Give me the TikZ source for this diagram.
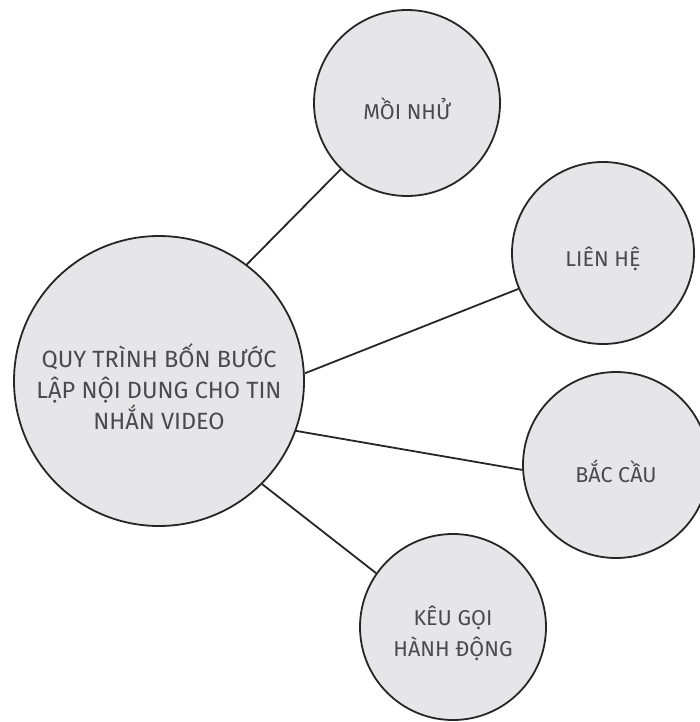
\documentclass[tikz,border=0pt]{standalone}
\usepackage{fontspec}
\setmainfont{Fira Sans}
\definecolor{fillgrey}{HTML}{E6E6E8}
\definecolor{txtgrey}{HTML}{4A4A4A}
\definecolor{edgegrey}{HTML}{262626}
\begin{document}
\begin{tikzpicture}[x=1pt,y=-1pt,
  bubble/.style={circle, draw=edgegrey, line width=1.8pt, fill=fillgrey,
    inner sep=0pt},
  lbl/.style={inner sep=0pt, align=center, text=txtgrey,
    font=\fontsize{21.5}{31}\selectfont, yshift=-6pt},
  biglbl/.style={lbl, font=\fontsize{23.5}{31}\selectfont},
  link/.style={draw=edgegrey, line width=1.8pt}]
\useasboundingbox (0,0) rectangle (700,722);
\node[bubble, minimum size=290pt] (main) at (159,381) {};
\node[bubble, minimum size=186pt] (moi) at (407,103) {};
\node[bubble, minimum size=182pt] (lien) at (603,253) {};
\node[bubble, minimum size=186pt] (bac) at (616,465) {};
\node[bubble, minimum size=186pt] (keu) at (453,627) {};
\node[biglbl] (maint) at (main.center) {QUY TRÌNH BỐN BƯỚC\\LẬP NỘI DUNG CHO TIN\\NHẮN VIDEO};
\node[lbl] (moit) at (moi.center) {MỒI NHỬ};
\node[lbl] (lient) at (lien.center) {LIÊN HỆ};
\node[lbl] (bact) at (bac.center) {BẮC CẦU};
\node[lbl] (keut) at (keu.center) {KÊU GỌI\\HÀNH ĐỘNG};
\draw[link] (main.53) -- (moi.225);
\draw[link] (main.3) -- (lien.203);
\draw[link] (main.-20) -- (bac.183);
\draw[link] (main.-45) -- (keu.145);
\end{tikzpicture}
\end{document}
